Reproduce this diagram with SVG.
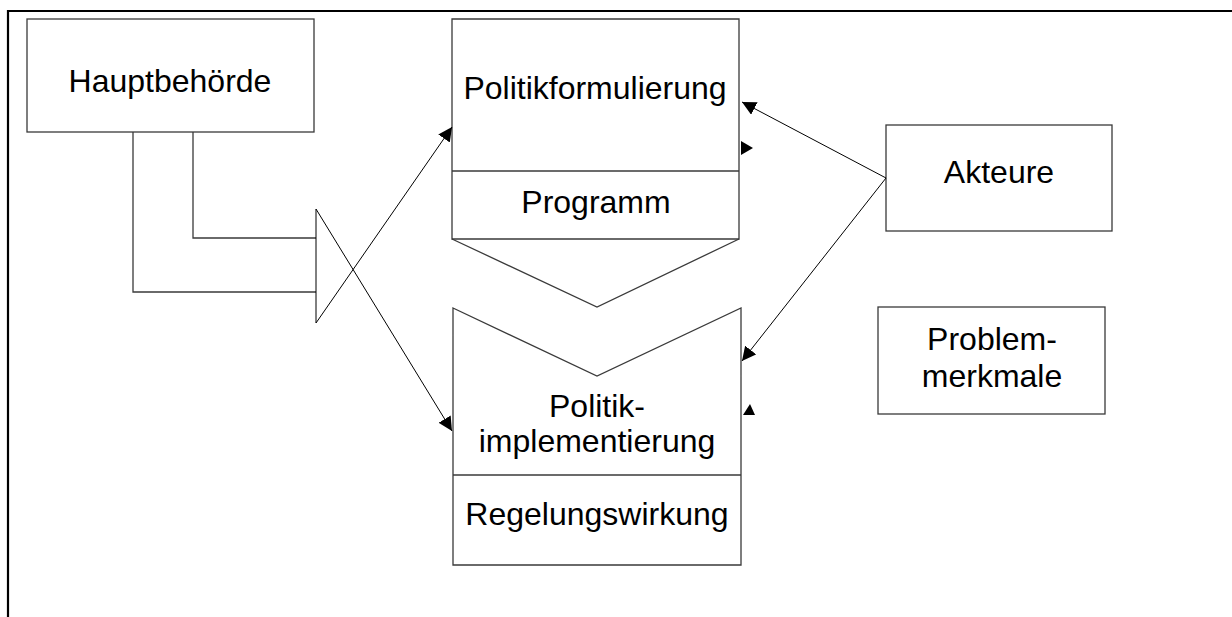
<svg xmlns="http://www.w3.org/2000/svg" width="1232" height="617" viewBox="0 0 1232 617">
<style>
.box{fill:#fff;stroke:#3a3a3a;stroke-width:1.3}
.ln{fill:none;stroke:#3a3a3a;stroke-width:1.3}
.con{fill:none;stroke:#000;stroke-width:1}
.t{font-family:"Liberation Sans",Arial,sans-serif;font-size:32px;fill:#000;text-anchor:middle}
.head{fill:#000;stroke:none}
</style>
<defs>
<marker id="arr" viewBox="0 0 10 10" refX="10" refY="5" markerWidth="14" markerHeight="14" markerUnits="userSpaceOnUse" orient="auto">
<path d="M0,0 L10,5 L0,10 z" fill="#000"/>
</marker>
</defs>
<rect width="1232" height="617" fill="#fff"/>
<path d="M8,617 L8,11 L1232,11" fill="none" stroke="#000" stroke-width="2.2"/>

<g id="hauptbehoerde">
<rect class="box" x="27" y="19" width="287" height="113"/>
<text class="t" x="170" y="92">Hauptbehörde</text>
</g>

<g id="politikformulierung">
<path class="box" d="M452,19 L739,19 L739,239 L452,239 Z"/>
<line class="ln" x1="452" y1="171" x2="739" y2="171"/>
<text class="t" x="595" y="99">Politikformulierung</text>
<text class="t" x="596" y="213">Programm</text>
<path class="ln" d="M452,239 L597,307 L739,239"/>
</g>

<g id="politikimplementierung">
<path class="box" d="M453,308 L597,376 L741,308 L741,565 L453,565 Z"/>
<line class="ln" x1="453" y1="475" x2="741" y2="475"/>
<text class="t" x="597" y="417">Politik-</text>
<text class="t" x="597" y="452">implementierung</text>
<text class="t" x="597" y="525">Regelungswirkung</text>
</g>

<g id="akteure">
<rect class="box" x="886" y="125" width="226" height="106"/>
<text class="t" x="999" y="183">Akteure</text>
</g>

<g id="problemmerkmale">
<rect class="box" x="878" y="307" width="227" height="107"/>
<text class="t" x="992" y="350">Problem-</text>
<text class="t" x="992" y="387">merkmale</text>
</g>

<g id="connectors">
<path class="ln" d="M133,132 L133,292 L316,292"/>
<path class="ln" d="M193,132 L193,238 L316,238"/>
<line class="con" x1="316" y1="209" x2="316" y2="323"/>
<line class="con" x1="316" y1="323" x2="452" y2="127" marker-end="url(#arr)"/>
<line class="con" x1="316" y1="209" x2="452" y2="431" marker-end="url(#arr)"/>
<line class="con" x1="886" y1="178" x2="742" y2="102" marker-end="url(#arr)"/>
<line class="con" x1="886" y1="178" x2="742" y2="361" marker-end="url(#arr)"/>
<polygon class="head" points="741,141 753,148 741,155"/>
<polygon class="head" points="743,415 755,415 750,404"/>
</g>
</svg>
